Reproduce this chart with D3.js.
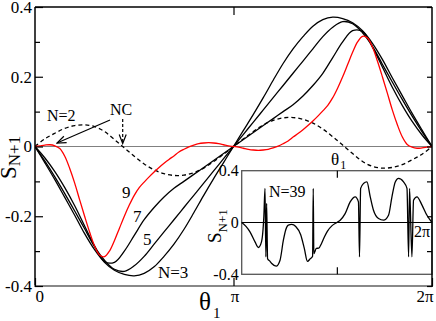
<!DOCTYPE html>
<html>
<head>
<meta charset="utf-8">
<script src="https://cdn.jsdelivr.net/npm/d3@7"></script>
<style>
    body { margin: 0; background: #fff; }
    svg { display: block; }
    svg text { font-family: 'Liberation Serif', 'Times New Roman', 'DejaVu Serif', serif; }
</style>
</head>
<body>
<svg id="chart" width="436" height="321"></svg>
<script>
// theta values are in units of pi (0 .. 2 means 0 .. 2pi)
const thetaMain = [0, 0.05, 0.1, 0.15, 0.2, 0.25, 0.3, 0.35, 0.4, 0.45, 0.5, 0.55, 0.6, 0.65, 0.7, 0.75, 0.8, 0.85, 0.9, 0.95, 1,
    1.05, 1.1, 1.15, 1.2, 1.25, 1.3, 1.35, 1.4, 1.45, 1.5, 1.55, 1.6, 1.65, 1.7, 1.75, 1.8, 1.85, 1.9, 1.95, 2];

const sN3 = [0, -0.047, -0.095, -0.146, -0.197, -0.25, -0.296, -0.332, -0.355, -0.367, -0.371, -0.364, -0.345, -0.315, -0.28, -0.238, -0.19, -0.14, -0.092, -0.046, 0,
    0.046, 0.092, 0.14, 0.19, 0.238, 0.28, 0.315, 0.345, 0.364, 0.371, 0.367, 0.355, 0.332, 0.296, 0.25, 0.197, 0.146, 0.095, 0.047, 0];
const sN5 = [0, -0.042, -0.087, -0.135, -0.185, -0.236, -0.287, -0.326, -0.352, -0.358, -0.342, -0.315, -0.28, -0.245, -0.21, -0.175, -0.14, -0.105, -0.07, -0.035, 0,
    0.035, 0.07, 0.105, 0.14, 0.175, 0.21, 0.245, 0.28, 0.315, 0.342, 0.358, 0.352, 0.326, 0.287, 0.236, 0.185, 0.135, 0.087, 0.042, 0];
const sN7 = [0, -0.033, -0.072, -0.118, -0.17, -0.228, -0.285, -0.33, -0.332, -0.3, -0.255, -0.21, -0.175, -0.145, -0.12, -0.1, -0.08, -0.06, -0.04, -0.02, 0,
    0.02, 0.04, 0.06, 0.08, 0.1, 0.12, 0.145, 0.175, 0.21, 0.255, 0.3, 0.332, 0.33, 0.285, 0.228, 0.17, 0.118, 0.072, 0.033, 0];
// dashed curve (N=2 / NC)
const sN2 = [0, 0.022, 0.038, 0.052, 0.06, 0.062, 0.057, 0.043, 0.02, -0.004, -0.028, -0.05, -0.067, -0.078, -0.083, -0.082, -0.075, -0.062, -0.043, -0.022, 0,
    0.022, 0.043, 0.062, 0.075, 0.082, 0.083, 0.078, 0.067, 0.05, 0.028, 0.004, -0.02, -0.043, -0.057, -0.062, -0.06, -0.052, -0.038, -0.022, 0];

// the N=9 curve (red) needs a finer grid
const thetaN9 = [0, 0.025, 0.05, 0.075, 0.1, 0.125, 0.15, 0.175, 0.2, 0.225, 0.25, 0.275, 0.3, 0.325, 0.35, 0.375, 0.4, 0.425, 0.45, 0.475,
    0.5, 0.525, 0.55, 0.575, 0.6, 0.625, 0.65, 0.675, 0.7, 0.725, 0.75, 0.775, 0.8, 0.825, 0.85, 0.875, 0.9, 0.925, 0.95, 0.975, 1,
    1.025, 1.05, 1.075, 1.1, 1.125, 1.15, 1.175, 1.2, 1.225, 1.25, 1.275, 1.3, 1.325, 1.35, 1.375, 1.4, 1.425, 1.45, 1.475,
    1.5, 1.525, 1.55, 1.575, 1.6, 1.625, 1.65, 1.675, 1.7, 1.725, 1.75, 1.775, 1.8, 1.825, 1.85, 1.875, 1.9, 1.925, 1.95, 1.975, 2];
const sN9 = [0, 0.002, 0.004, 0.005, 0.002, -0.006, -0.028, -0.063, -0.105, -0.153, -0.2, -0.245, -0.285, -0.311, -0.316, -0.3, -0.27, -0.235, -0.2, -0.168,
    -0.14, -0.118, -0.102, -0.087, -0.073, -0.06, -0.048, -0.037, -0.027, -0.016, -0.008, -0.001, 0.004, 0.008, 0.01, 0.011, 0.01, 0.008, 0.005, 0.002, 0,
    -0.002, -0.005, -0.008, -0.01, -0.011, -0.01, -0.008, -0.004, 0.001, 0.008, 0.016, 0.027, 0.037, 0.048, 0.06, 0.073, 0.087, 0.102, 0.118,
    0.14, 0.168, 0.2, 0.235, 0.27, 0.3, 0.316, 0.311, 0.285, 0.245, 0.2, 0.153, 0.105, 0.063, 0.028, 0.006, -0.002, -0.005, -0.004, -0.002, 0];

// inset, N=39
const thetaN39 = [0, 0.045, 0.087, 0.14, 0.175, 0.208, 0.233, 0.245, 0.254, 0.262, 0.272, 0.298, 0.316, 0.362, 0.403, 0.438, 0.463, 0.49, 0.526, 0.568,
    0.62, 0.658, 0.691, 0.72, 0.745, 0.752, 0.758, 0.785, 0.81, 0.84, 0.87, 0.9, 0.95, 1.0,
    1.035, 1.087, 1.14, 1.193, 1.227, 1.238, 1.25, 1.28, 1.316, 1.351, 1.385, 1.438, 1.491, 1.543, 1.579, 1.614, 1.648, 1.701, 1.737, 1.754,
    1.764, 1.789, 1.806, 1.842, 1.895, 1.947, 2.0];
const sN39 = [0, -0.03, -0.072, -0.15, -0.193, -0.15, 0.05, 0.263, -0.265, 0.147, -0.28, -0.3, -0.317, -0.337, -0.291, -0.137, -0.056, -0.02, -0.015, -0.031,
    -0.095, -0.2, -0.3, -0.28, -0.26, 0.263, -0.24, -0.2, -0.198, -0.16, -0.11, -0.068, -0.024, 0,
    0.018, 0.069, 0.159, 0.198, 0.159, -0.265, 0.263, 0.301, 0.313, 0.198, 0.095, 0.031, 0.018, 0.056, 0.198, 0.313, 0.34, 0.313, 0.263, -0.265,
    0.263, -0.265, 0.172, 0.198, 0.134, 0.056, 0];

// tick values / labels
const yMajor = [0.4, 0.2, 0, -0.2, -0.4];
const yMinor = [0.3, 0.1, -0.1, -0.3];
const xTicks = [0, 1, 2];
const xTickLabels = ['0', '\u03c0', '2\u03c0'];
const insetYTicks = [0.4, 0, -0.4];

const FONT = "'Liberation Serif', 'Times New Roman', 'DejaVu Serif', serif";

const svg = d3.select('#chart').attr('font-family', FONT);

// main plot scales
const x = d3.scaleLinear().domain([0, 2]).range([35, 432]);
const y = d3.scaleLinear().domain([-0.4, 0.4]).range([286, 7]);

// inset scales
const xi = d3.scaleLinear().domain([0, 2]).range([241.7, 432]);
const yi = d3.scaleLinear().domain([-0.4, 0.4]).range([274.3, 170.7]);

const fmt = d => (d === 0 ? '0' : d.toFixed(1));

// clip the main curves to the frame
const defs = svg.append('defs');
defs.append('clipPath').attr('id', 'clipMain')
    .append('rect').attr('x', 35).attr('y', 7).attr('width', 397).attr('height', 279);

defs.append('marker')
    .attr('id', 'arrow')
    .attr('markerUnits', 'userSpaceOnUse')
    .attr('viewBox', '-1 -5 11 10')
    .attr('refX', 9).attr('refY', 0)
    .attr('markerWidth', 11).attr('markerHeight', 10)
    .attr('orient', 'auto')
    .append('path')
    .attr('d', 'M0,-3.5 L9,0 L0,3.5')
    .attr('fill', 'none').attr('stroke', '#000').attr('stroke-width', 1.2);

// zero line
svg.append('line')
    .attr('x1', x(0)).attr('x2', x(2)).attr('y1', y(0)).attr('y2', y(0))
    .attr('stroke', '#808080').attr('stroke-width', 1.2);

// curves
const mainLine = d3.line()
    .x(d => x(d[0]))
    .y(d => y(d[1]))
    .curve(d3.curveCatmullRom.alpha(0.5));

const curves = [
    { t: thetaMain, s: sN2, color: '#000', dash: '4,3' },
    { t: thetaMain, s: sN3, color: '#000', dash: null },
    { t: thetaMain, s: sN5, color: '#000', dash: null },
    { t: thetaMain, s: sN7, color: '#000', dash: null },
    { t: thetaN9, s: sN9, color: '#ff0000', dash: null }
];

const gCurves = svg.append('g').attr('clip-path', 'url(#clipMain)');
curves.forEach(c => {
    gCurves.append('path')
        .datum(c.t.map((t, i) => [t, c.s[i]]))
        .attr('d', mainLine)
        .attr('fill', 'none')
        .attr('stroke', c.color)
        .attr('stroke-width', 1.3)
        .attr('stroke-dasharray', c.dash);
});

// frame: top/left/right black, bottom gray
svg.append('line').attr('x1', 35).attr('x2', 432).attr('y1', 7).attr('y2', 7)
    .attr('stroke', '#000').attr('stroke-width', 1.5);
svg.append('line').attr('x1', 35).attr('x2', 35).attr('y1', 7).attr('y2', 287)
    .attr('stroke', '#000').attr('stroke-width', 1.5);
svg.append('line').attr('x1', 34).attr('x2', 433).attr('y1', 286).attr('y2', 286)
    .attr('stroke', '#888').attr('stroke-width', 2);

// left axis: major ticks with labels, minor ticks without
svg.append('g').attr('transform', 'translate(35,0)')
    .call(d3.axisLeft(y).tickValues(yMajor).tickSize(-8).tickSizeOuter(0).tickPadding(3).tickFormat(fmt));
svg.append('g').attr('transform', 'translate(35,0)')
    .call(d3.axisLeft(y).tickValues(yMinor).tickSize(-5).tickSizeOuter(0).tickFormat(''));

// top and bottom: a single tick at pi
svg.append('g').attr('transform', 'translate(0,7)')
    .call(d3.axisTop(x).tickValues([1]).tickSize(-8).tickSizeOuter(0).tickFormat(''));
const bottomAxis = svg.append('g').attr('transform', 'translate(0,286)')
    .call(d3.axisBottom(x).tickValues(xTicks).tickSize(-8).tickSizeOuter(0).tickPadding(4)
        .tickFormat((d, i) => xTickLabels[i]));

// annotations
const ann = svg.append('g').attr('font-size', 16).attr('fill', '#000');
ann.append('text').attr('x', 47).attr('y', 121).text('N=2');
ann.append('text').attr('x', 110).attr('y', 115).text('NC');
svg.append('line')
    .attr('x1', 110).attr('y1', 120).attr('x2', 57).attr('y2', 143)
    .attr('stroke', '#000').attr('stroke-width', 1.2).attr('marker-end', 'url(#arrow)');
svg.append('line')
    .attr('x1', 122.7).attr('y1', 119).attr('x2', 122.7).attr('y2', 143.5)
    .attr('stroke', '#000').attr('stroke-width', 1.2).attr('stroke-dasharray', '3,2')
    .attr('marker-end', 'url(#arrow)');

const labs = svg.append('g').attr('font-size', 17);
labs.append('text').attr('x', 122).attr('y', 198).text('9');
labs.append('text').attr('x', 133).attr('y', 222).text('7');
labs.append('text').attr('x', 143).attr('y', 245).text('5');
labs.append('text').attr('x', 158).attr('y', 278).text('N=3');

// axis titles
const xt = svg.append('text').attr('x', 199).attr('y', 310).attr('font-size', 25);
xt.append('tspan').text('\u03b8');
xt.append('tspan').attr('font-size', 15).attr('dx', 2).attr('dy', 8).text('1');

const yt = svg.append('text').attr('transform', 'translate(16,179) rotate(-90)').attr('font-size', 23);
yt.append('tspan').text('S');
yt.append('tspan').attr('font-size', 17).attr('dy', 4).text('N+1');

// ---------- inset ----------
const inset = svg.append('g');
inset.append('rect')
    .attr('x', xi(0)).attr('y', yi(0.4))
    .attr('width', xi(2) - xi(0)).attr('height', yi(-0.4) - yi(0.4))
    .attr('fill', '#fff').attr('stroke', '#555').attr('stroke-width', 1.3);
inset.append('line')
    .attr('x1', xi(0)).attr('x2', xi(2)).attr('y1', yi(0)).attr('y2', yi(0))
    .attr('stroke', '#000').attr('stroke-width', 1);

const insetLine = d3.line()
    .x(d => xi(d[0]))
    .y(d => yi(d[1]))
    .curve(d3.curveMonotoneX);
inset.append('path')
    .datum(thetaN39.map((t, i) => [t, sN39[i]]))
    .attr('d', insetLine)
    .attr('fill', 'none').attr('stroke', '#000').attr('stroke-width', 1.3);

inset.append('g').attr('transform', `translate(0,${yi(0.4)})`)
    .call(d3.axisTop(xi).tickValues([1]).tickSize(-7).tickSizeOuter(0).tickFormat(''));
inset.append('g').attr('transform', `translate(0,${yi(-0.4)})`)
    .call(d3.axisBottom(xi).tickValues([1]).tickSize(-7).tickSizeOuter(0).tickFormat(''));
const insetLeft = inset.append('g').attr('transform', `translate(${xi(0)},0)`)
    .call(d3.axisLeft(yi).tickValues(insetYTicks).tickSize(0).tickPadding(3).tickFormat(fmt));

inset.append('text').attr('x', 414).attr('y', 237).attr('font-size', 16).text('2\u03c0');
inset.append('text').attr('x', 269).attr('y', 197).attr('font-size', 16).text('N=39');

const it = inset.append('text').attr('x', 331).attr('y', 165).attr('font-size', 17);
it.append('tspan').text('\u03b8');
it.append('tspan').attr('font-size', 12).attr('dx', 1).attr('dy', 4).text('1');

const iyt = inset.append('text').attr('transform', 'translate(221,243) rotate(-90)').attr('font-size', 19);
iyt.append('tspan').text('S');
iyt.append('tspan').attr('font-size', 13).attr('dy', 6).text('N+1');

// right side of the main frame drawn last so its ticks show over the inset
svg.append('line').attr('x1', 432).attr('x2', 432).attr('y1', 7).attr('y2', 287)
    .attr('stroke', '#000').attr('stroke-width', 1.5);
svg.append('g').attr('transform', 'translate(432,0)')
    .call(d3.axisRight(y).tickValues(yMajor.concat(yMinor)).tickSize(-5).tickSizeOuter(0).tickFormat(''));

// common styling for the axes (d3 sets sans-serif on axis groups)
svg.selectAll('.domain').remove();
svg.selectAll('.tick').each(function () { d3.select(this.parentNode).attr('font-family', FONT); });
svg.selectAll('.tick line').attr('stroke', '#000').attr('stroke-width', 1.2);
svg.selectAll('.tick text').attr('font-size', 17).attr('fill', '#000');
insetLeft.selectAll('.tick text').attr('font-size', 16);

// keep the end labels of the x axis inside the frame
bottomAxis.selectAll('.tick text')
    .attr('text-anchor', (d, i) => (i === 0 ? 'start' : i === 2 ? 'end' : 'middle'))
    .attr('dx', (d, i) => (i === 2 ? 1 : i === 1 ? 1 : 0));
</script>
</body>
</html>
